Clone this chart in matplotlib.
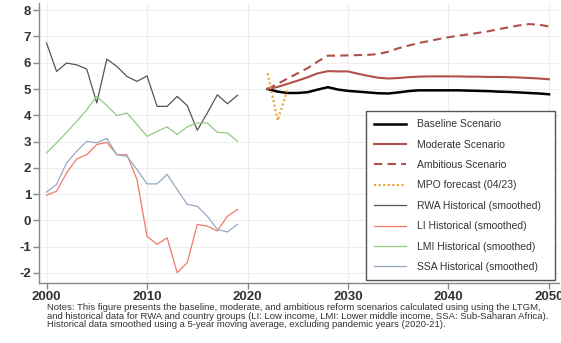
import matplotlib
matplotlib.use("Agg")
import matplotlib.pyplot as plt

# ======================================
# DATA
# ======================================

hist_years = list(range(2000, 2020))

rwa_hist = [6.75, 5.67, 5.99, 5.92, 5.76, 4.47, 6.14, 5.86, 5.48, 5.29,
            5.50, 4.34, 4.34, 4.72, 4.37, 3.43, 4.09, 4.78, 4.44, 4.76]
li_hist = [0.96, 1.11, 1.81, 2.34, 2.50, 2.89, 2.97, 2.50, 2.50, 1.56,
           -0.60, -0.91, -0.66, -1.99, -1.61, -0.15, -0.22, -0.40, 0.16, 0.42]
lmi_hist = [2.57, 2.95, 3.35, 3.77, 4.21, 4.72, 4.37, 3.99, 4.09, 3.65,
            3.20, 3.39, 3.56, 3.27, 3.56, 3.71, 3.71, 3.35, 3.33, 3.01]
ssa_hist = [1.08, 1.37, 2.19, 2.63, 3.01, 2.95, 3.12, 2.50, 2.44, 1.94,
            1.39, 1.39, 1.75, 1.18, 0.61, 0.54, 0.16, -0.34, -0.44, -0.15]

scen_years = list(range(2022, 2051))

baseline = [5.00, 4.90, 4.85, 4.85, 4.88, 4.98, 5.07, 4.98, 4.93, 4.90,
            4.87, 4.84, 4.83, 4.87, 4.92, 4.95, 4.95, 4.95, 4.95, 4.95,
            4.94, 4.93, 4.92, 4.90, 4.89, 4.87, 4.85, 4.83, 4.80]
moderate = [5.00, 5.08, 5.20, 5.32, 5.45, 5.60, 5.68, 5.67, 5.67, 5.58,
            5.50, 5.43, 5.40, 5.42, 5.45, 5.47, 5.48, 5.48, 5.48, 5.48,
            5.47, 5.47, 5.46, 5.46, 5.45, 5.44, 5.42, 5.40, 5.37]
ambitious = [5.00, 5.20, 5.40, 5.60, 5.80, 6.05, 6.27, 6.27, 6.28, 6.29,
             6.30, 6.33, 6.42, 6.55, 6.65, 6.75, 6.82, 6.90, 6.97, 7.03,
             7.08, 7.14, 7.20, 7.28, 7.35, 7.42, 7.47, 7.45, 7.38]

mpo_years = [2022, 2023, 2024]
mpo_forecast = [5.6, 3.8, 5.0]

x_ticks = [2000, 2010, 2020, 2030, 2040, 2050]
y_ticks = [-2, -1, 0, 1, 2, 3, 4, 5, 6, 7, 8]

notes = ("Notes: This figure presents the baseline, moderate, and ambitious reform "
         "scenarios calculated using using the LTGM,\n"
         "and historical data for RWA and country groups (LI: Low income, LMI: "
         "Lower middle income, SSA: Sub-Saharan Africa).\n"
         "Historical data smoothed using a 5-year moving average, excluding "
         "pandemic years (2020-21).")

# ======================================
# PLOT
# ======================================

plt.rcParams["font.family"] = ["Liberation Sans", "DejaVu Sans"]
plt.rcParams["axes.unicode_minus"] = False

fig = plt.figure(figsize=(5.61, 3.43), dpi=100)
ax = fig.add_axes([0.0695, 0.175, 0.927, 0.816])

brick = "#b0504a"

ax.plot(scen_years, baseline, color="black", lw=1.8, label="Baseline Scenario")
ax.plot(scen_years, moderate, color=brick, lw=1.5, label="Moderate Scenario")
ax.plot(scen_years, ambitious, color=brick, lw=1.5, ls=(0, (4, 2.5)),
        label="Ambitious Scenario")
ax.plot(mpo_years, mpo_forecast, color="#f0a030", lw=1.5, ls=(0, (1, 1.2)),
        label="MPO forecast (04/23)")
ax.plot(hist_years, rwa_hist, color="#555555", lw=0.9,
        label="RWA Historical (smoothed)")
ax.plot(hist_years, li_hist, color="#f07a68", lw=0.9,
        label="LI Historical (smoothed)")
ax.plot(hist_years, lmi_hist, color="#93c985", lw=0.9,
        label="LMI Historical (smoothed)")
ax.plot(hist_years, ssa_hist, color="#97a8c6", lw=0.9,
        label="SSA Historical (smoothed)")

ax.set_xlim(1999.25, 2051)
ax.set_ylim(-2.38, 8.27)
ax.set_xticks(x_ticks)
ax.set_yticks(y_ticks)

ax.grid(True, color="#eeeeee", lw=0.8)
ax.set_axisbelow(True)

for side in ["top", "right"]:
    ax.spines[side].set_visible(False)
for side in ["left", "bottom"]:
    ax.spines[side].set_color("#888888")
    ax.spines[side].set_linewidth(1.0)

ax.tick_params(direction="out", length=4, width=1.0, color="#888888",
               labelsize=9.5, labelcolor="#333333", pad=1.5)
for lab in ax.get_xticklabels() + ax.get_yticklabels():
    lab.set_fontweight("bold")

leg = ax.legend(
    loc="lower left",
    bbox_to_anchor=(0.629, 0.011, 0.3635, 0.6),
    mode="expand",
    borderaxespad=0,
    fontsize=7.5,
    labelspacing=1.0,
    handlelength=3.1,
    handletextpad=1.0,
    borderpad=0.75,
    fancybox=False,
    edgecolor="#555555",
    framealpha=1
)
leg.get_frame().set_linewidth(1.0)
for txt in leg.get_texts():
    txt.set_color("#333333")

fig.text(0.084, 0.117, notes, fontsize=6.8, color="#333333",
         va="top", ha="left", linespacing=0.95)

fig.savefig("out.png", dpi=100)
